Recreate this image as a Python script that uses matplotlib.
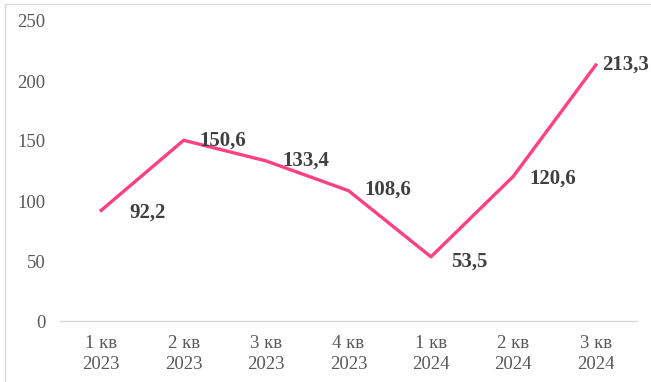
import matplotlib.pyplot as plt
from matplotlib.patches import Rectangle

quarters = ['1 кв\n2023', '2 кв\n2023', '3 кв\n2023', '4 кв\n2023',
            '1 кв\n2024', '2 кв\n2024', '3 кв\n2024']
values = [92.2, 150.6, 133.4, 108.6, 53.5, 120.6, 213.3]

plt.rcParams['font.family'] = ['Liberation Serif', 'DejaVu Serif']

fig = plt.figure(figsize=(6.51, 3.82), dpi=100)
ax = fig.add_axes([60 / 651, 61 / 382, 577 / 651, 300 / 382])

x = list(range(len(values)))
ax.plot(x, values, color='#FF4081', linewidth=2.4, solid_joinstyle='round')

ax.set_xlim(-0.5, len(values) - 0.5)
ax.set_ylim(0, 250)
ax.set_yticks(range(0, 251, 50))
ax.set_xticks(x)
ax.set_xticklabels(quarters, linespacing=1.35)

for side in ['top', 'right', 'left']:
    ax.spines[side].set_visible(False)
ax.spines['bottom'].set_color('#d9d9d9')
ax.spines['bottom'].set_linewidth(1)
ax.tick_params(axis='both', length=0, labelsize=13.5, labelcolor='#595959')
ax.tick_params(axis='y', pad=10.5)
ax.tick_params(axis='x', pad=10)

# label offsets (pixels) from each point, Excel "right" placement
dxs = [28, 16, 16, 16, 20, 16, 6]
dys = [-2, 0, 0, 1, -5, -2, 0]
for xi, v, dx, dy in zip(x, values, dxs, dys):
    ax.annotate(f'{v:.1f}'.replace('.', ','), (xi, v),
                xytext=(dx, dy), textcoords='offset pixels',
                ha='left', va='center', fontsize=15, fontweight='bold',
                color='#404040', annotation_clip=False)

# chart frame: only top and left edges are visible in the cropped screenshot
fig.patches.append(Rectangle((5 / 651, -10 / 382), 660 / 651, 388 / 382,
                             transform=fig.transFigure, fill=False,
                             edgecolor='#d9d9d9', linewidth=1, zorder=0))

fig.savefig('out.png', dpi=100)
